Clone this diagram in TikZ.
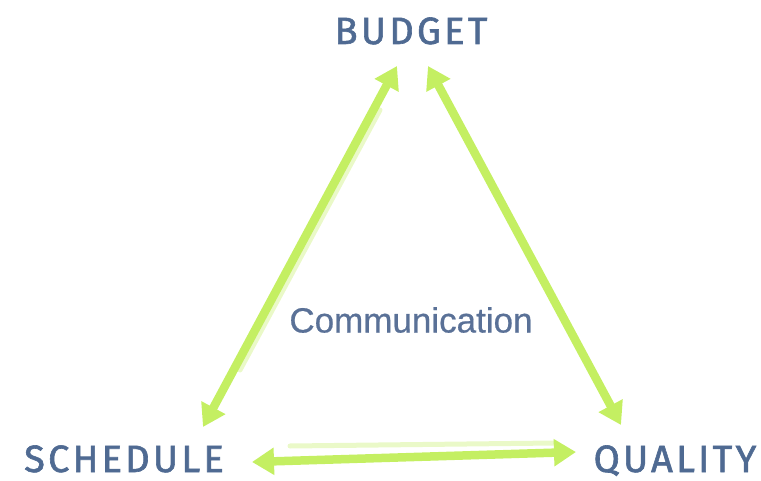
\documentclass[tikz,border=0pt]{standalone}
\usepackage{fontspec}
\setmainfont{Liberation Sans}
\newfontfamily\labelfont[LetterSpace=8.5,FakeBold=1.6]{Fira Sans}
\newfontfamily\commfont[FakeBold=0.6]{Liberation Sans}
\usetikzlibrary{arrows.meta}
\definecolor{lime}{HTML}{C4EF62}
\definecolor{lbl}{HTML}{4F6A92}
\definecolor{comm}{HTML}{5A7197}
\tikzset{
  corner/.style={text=lbl, font=\labelfont\fontsize{38}{38}\selectfont, inner sep=0pt, anchor=base},
  link/.style={line width=8.5pt, draw=lime, {Triangle[width=26pt,length=22pt]}-{Triangle[width=26pt,length=22pt]}},
  glow/.style={line width=5pt, draw=lime!35, line cap=round}
}
\begin{document}
\begin{tikzpicture}[x=1pt,y=-1pt]
\useasboundingbox (0,0) rectangle (761,481);
\node[corner] (budget) at (411,44) {BUDGET};
\node[corner] (schedule) at (124,472) {SCHEDULE};
\node[corner] (quality) at (675,472) {QUALITY};
\node[text=comm, font=\commfont\fontsize{35}{35}\selectfont, inner sep=0pt] (comm) at (411,320) {Communication};
\coordinate (lt) at (397,66);
\coordinate (lb) at (203,427);
\coordinate (rt) at (428,66);
\coordinate (rb) at (621,425);
\coordinate (bl) at (252,462);
\coordinate (br) at (576,452);
% faint glow stripes
\draw[glow] (380,110) -- (240,370);
\draw[glow] (450,110) -- (595,375);
\draw[glow] (290,446) -- (555,443);
% main arrows
\draw[link] (lt) -- (lb);
\draw[link] (rt) -- (rb);
\draw[link] (bl) -- (br);
\end{tikzpicture}
\end{document}
